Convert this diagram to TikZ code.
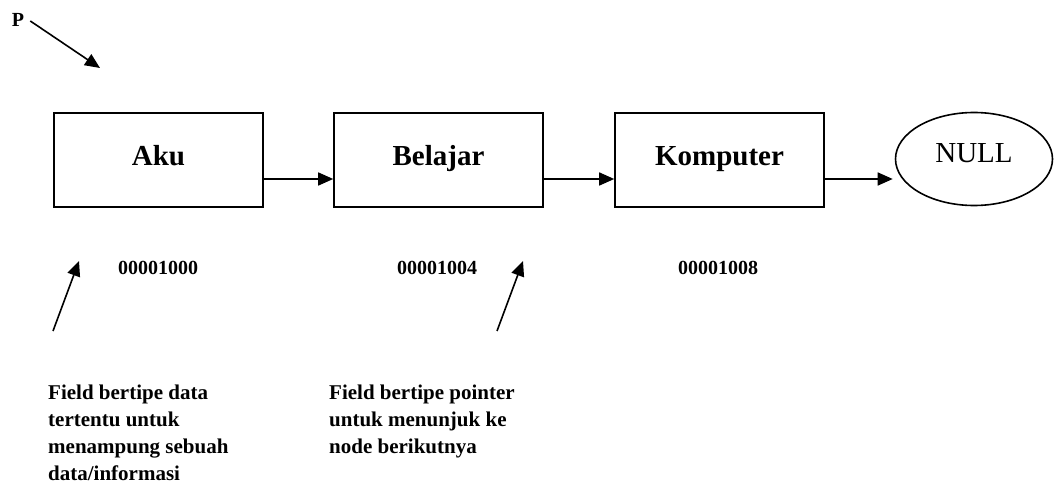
\documentclass[tikz,border=0pt]{standalone}
\usepackage{fontspec}
\setmainfont{Liberation Serif}
\usetikzlibrary{arrows.meta,shapes.geometric}

\tikzset{
  cell/.style={draw, line width=1.6pt, minimum width=209pt, minimum height=94pt,
    inner sep=0pt, text height=20pt, text depth=8pt,
    font=\fontsize{29}{34}\selectfont\bfseries},
  addr/.style={inner sep=0pt, font=\fontsize{20}{24}\selectfont\bfseries},
  note/.style={inner sep=0pt, align=left, anchor=north west,
    font=\fontsize{21}{27}\selectfont\bfseries},
  link/.style={line width=1.6pt, -{Triangle[length=15pt,width=13pt]}},
}

\begin{document}
\begin{tikzpicture}[x=1pt,y=-1pt]
  \useasboundingbox (0,0) rectangle (1054,486);

  % nodes of the list
  \node[cell] (aku) at (158.5,160) {Aku};
  \node[cell] (belajar) at (438.5,160) {Belajar};
  \node[cell] (komputer) at (719.5,160) {Komputer};
  \node[draw, ellipse, line width=1.6pt, minimum width=157pt, minimum height=93pt,
    inner sep=0pt, text height=20pt, text depth=12pt,
    font=\fontsize{29}{34}\selectfont] (null) at (974,159) {NULL};

  % next pointers
  \draw[link] ([yshift=-19pt]aku.east) -- ([yshift=-19pt]belajar.west);
  \draw[link] ([yshift=-19pt]belajar.east) -- ([yshift=-19pt]komputer.west);
  \draw[link] ([yshift=-19pt]komputer.east) -- ([yshift=-20pt,xshift=-2pt]null.west);

  % head pointer
  \node[addr] (p) at (18,20) {P};
  \coordinate (phead) at (100,68);
  \draw[link] ([xshift=6pt,yshift=-1pt]p.east) -- (phead);

  % addresses
  \node[addr] (a1) at (158,268) {00001000};
  \node[addr] (a2) at (437,268) {00001004};
  \node[addr] (a3) at (718,268) {00001008};

  % field notes
  \node[note] (datanote) at (48,385) {Field bertipe data\\tertentu untuk\\menampung sebuah\\data/informasi};
  \node[note] (ptrnote) at (329,385) {Field bertipe pointer\\untuk menunjuk ke\\node berikutnya};
  \coordinate (dtail) at (53,331);
  \coordinate (dhead) at (79,261);
  \coordinate (ptail) at (497,331);
  \coordinate (phead2) at (523,261);
  \draw[link] (dtail) -- (dhead);
  \draw[link] (ptail) -- (phead2);
\end{tikzpicture}
\end{document}
